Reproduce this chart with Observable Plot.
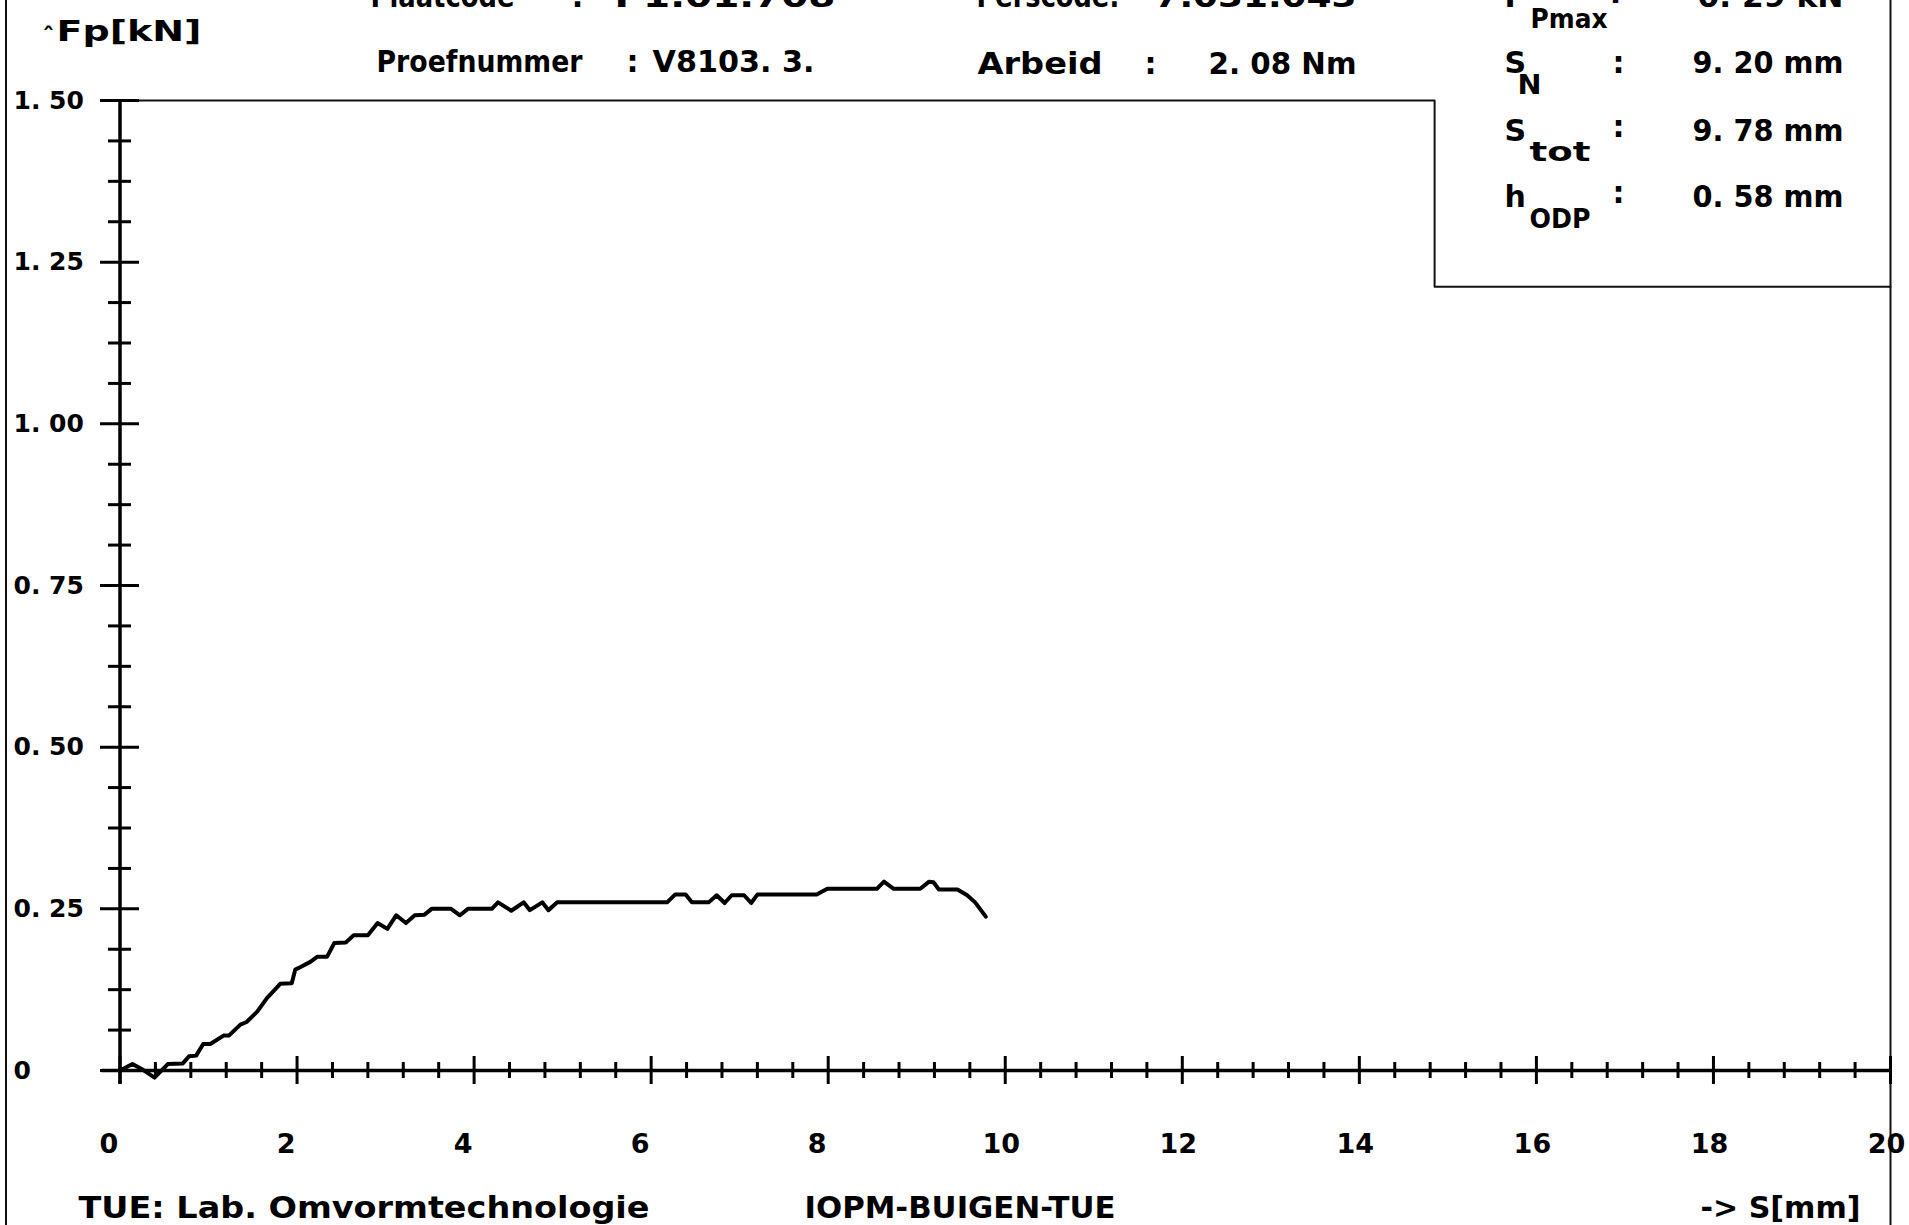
<!DOCTYPE html>
<html><head><meta charset="utf-8">
<script src="https://cdn.jsdelivr.net/npm/d3@7"></script>
<script src="https://cdn.jsdelivr.net/npm/@observablehq/plot@0.6"></script>
<style>
html,body{margin:0;padding:0;background:#fff;}
#chart{position:relative;width:1909px;height:1225px;overflow:hidden;background:#fff}
svg text{font-family:"DejaVu Sans",sans-serif;}
</style></head><body><div id="chart"></div>
<script>
// ---- data: displacement S [mm] and force Fp [kN] ----
const sValues = [0, 0.14, 0.26, 0.39, 0.54, 0.71, 0.78, 0.86, 0.94, 1.02, 1.17, 1.23, 1.36, 1.43, 1.55, 1.66, 1.81, 1.94, 1.98, 2.04, 2.15, 2.23, 2.34, 2.42, 2.55, 2.64, 2.80, 2.91, 3.02, 3.12, 3.23, 3.33, 3.44, 3.52, 3.74, 3.84, 3.93, 4.20, 4.27, 4.42, 4.56, 4.63, 4.77, 4.84, 4.94, 6.18, 6.27, 6.39, 6.46, 6.65, 6.74, 6.83, 6.91, 7.05, 7.13, 7.20, 7.87, 7.99, 8.55, 8.63, 8.74, 9.04, 9.14, 9.19, 9.25, 9.46, 9.57, 9.66, 9.78];
const fValues = [0, 0.010, 0.001, -0.011, 0.010, 0.011, 0.022, 0.023, 0.041, 0.041, 0.054, 0.054, 0.071, 0.075, 0.091, 0.112, 0.134, 0.135, 0.156, 0.160, 0.168, 0.176, 0.176, 0.197, 0.198, 0.209, 0.209, 0.228, 0.219, 0.240, 0.228, 0.240, 0.241, 0.250, 0.250, 0.240, 0.250, 0.250, 0.260, 0.247, 0.260, 0.248, 0.260, 0.248, 0.260, 0.260, 0.272, 0.272, 0.260, 0.260, 0.271, 0.259, 0.271, 0.271, 0.259, 0.272, 0.272, 0.281, 0.281, 0.292, 0.281, 0.281, 0.292, 0.291, 0.280, 0.280, 0.271, 0.260, 0.238];

const xTickValues = [0, 2, 4, 6, 8, 10, 12, 14, 16, 18, 20];
const xTickLabels = ["0", "2", "4", "6", "8", "10", "12", "14", "16", "18", "20"];
const yTickValues = [0, 0.25, 0.5, 0.75, 1.0, 1.25, 1.5];
const yTickLabels = ["0", "0. 25", "0. 50", "0. 75", "1. 00", "1. 25", "1. 50"];

// results box outline (data units)
const boxS = [0, 14.85, 14.85, 20];
const boxF = [1.5, 1.5, 1.212, 1.212];

// header / footer texts
const headerTexts = ["Plaatcode", ":", "P1.01.708", "Perscode:", "7.031.043", "F", "Pmax", ":", "0. 29 kN",
  "ˆ", "Fp[kN]", "Proefnummer", ":", "V8103. 3.", "Arbeid", ":", "2. 08 Nm",
  "S", "N", ":", "9. 20 mm", "S", "tot", ":", "9. 78 mm", "h", "ODP", ":", "0. 58 mm"];
const footerTexts = ["TUE: Lab. Omvormtechnologie", "IOPM-BUIGEN-TUE", "-> S[mm]"];

// ---- layout ----
const W = 1909, H = 1225, ML = 119.5, MR = 19, MT = 100, MB = 155;
// [x, baseline, fontSize, textLength]
const headerLayout = [
  [370, 6, 30, 144], [571, 6, 30, 0], [614, 6, 30, 221], [976, 6, 30, 143], [1154, 6, 30, 202],
  [1504, 6, 30, 0], [1530, 27, 26, 77], [1609, 2, 30, 0], [1697, 6, 30, 146],
  [42, 44, 24, 0], [56, 40, 28, 145], [376, 71, 30, 206], [626, 71, 30, 0], [652, 71, 30, 162],
  [977, 73, 30, 125], [1144, 73, 30, 0], [1208, 73, 30, 148],
  [1504, 72, 30, 0], [1517, 93, 26, 24], [1612, 72, 30, 0], [1692, 72, 30, 151],
  [1504, 140, 30, 0], [1529, 160, 26, 61], [1612, 136, 30, 0], [1692, 140, 30, 151],
  [1504, 206, 30, 0], [1529, 227, 26, 61], [1612, 202, 30, 0], [1692, 206, 30, 151]
];
const footerLayout = [[78, 1217, 30, 571], [804, 1217, 30, 311], [1700, 1217, 30, 160]];

const curve = sValues.map((s, i) => ({s, f: fValues[i]}));
const box = boxS.map((s, i) => ({s, f: boxF[i]}));
const xMinor = d3.range(0, 20.001, 0.4).map(v => Math.round(v * 10) / 10).filter(v => !xTickValues.includes(v));
const yMinor = d3.range(0, 1.5001, 0.0625).filter(v => !yTickValues.some(t => Math.abs(t - v) < 1e-9));

const annItems = [];
headerTexts.forEach((t, i) => annItems.push({t, l: headerLayout[i]}));
footerTexts.forEach((t, i) => annItems.push({t, l: footerLayout[i]}));

const annMarks = annItems.map(({t, l}) => Plot.text([t], {
  text: d => d, frameAnchor: "top-left", dx: l[0] - ML, dy: l[1] - MT,
  textAnchor: "start", lineAnchor: "bottom", fontSize: l[2], fontWeight: "bold",
  fill: "black", ariaDescription: "ann"
}));

const plot = Plot.plot({
  width: W, height: H,
  marginLeft: ML, marginRight: MR, marginTop: MT, marginBottom: MB,
  style: {background: "#fff", overflow: "visible"},
  x: {domain: [0, 20], axis: null},
  y: {domain: [0, 1.5], axis: null},
  marks: [
    // borders
    Plot.ruleX([20], {x: d => d, insetTop: -MT, insetBottom: -MB, strokeWidth: 2, stroke: "#111"}),
    Plot.ruleX([0], {x: d => d, dx: -114, insetTop: -MT, insetBottom: -MB, strokeWidth: 2, stroke: "#111"}),
    // results box
    Plot.line(box, {x: "s", y: "f", stroke: "#111", strokeWidth: 2}),
    // axes
    Plot.ruleX([0], {x: d => d, y1: d => 1.5, y2: d => 0, insetBottom: -14, strokeWidth: 3.5}),
    Plot.ruleY([0], {y: d => d, x1: d => 0, x2: d => 20, insetLeft: -18, strokeWidth: 3.5}),
    // x ticks
    Plot.ruleX(xTickValues, {x: d => d, y1: d => 0, y2: d => 0, insetTop: -14, insetBottom: -14, strokeWidth: 3}),
    Plot.ruleX(xMinor, {x: d => d, y1: d => 0, y2: d => 0, insetTop: -8, insetBottom: -8, strokeWidth: 3}),
    // y ticks
    Plot.ruleY(yTickValues, {y: d => d, x1: d => 0, x2: d => 0, insetLeft: -19.5, insetRight: -19.5, strokeWidth: 3}),
    Plot.ruleY(yMinor, {y: d => d, x1: d => 0, x2: d => 0, insetLeft: -11.5, insetRight: -11.5, strokeWidth: 3}),
    // tick labels
    Plot.text(xTickValues.filter(v => v < 10), {x: d => d, y: d => 0, dx: -11, dy: 82, text: d => xTickLabels[xTickValues.indexOf(d)],
      textAnchor: "middle", lineAnchor: "bottom", fontSize: 27, fontWeight: "bold", fill: "black"}),
    Plot.text(xTickValues.filter(v => v >= 10), {x: d => d, y: d => 0, dx: -4, dy: 82, text: d => xTickLabels[xTickValues.indexOf(d)],
      textAnchor: "middle", lineAnchor: "bottom", fontSize: 27, fontWeight: "bold", fill: "black"}),
    Plot.text(yTickValues, {x: d => 0, y: d => d, dx: -106.5, text: (d, i) => yTickLabels[i],
      textAnchor: "start", lineAnchor: "middle", fontSize: 25, fontWeight: "bold", fill: "black"}),
    // data curve
    Plot.line(curve, {x: "s", y: "f", stroke: "black", strokeWidth: 4, strokeLinejoin: "round"}),
    ...annMarks
  ]
});

document.getElementById("chart").appendChild(plot);

// fit annotation widths
const annTexts = plot.querySelectorAll('g[aria-description="ann"] text');
annTexts.forEach((el, i) => {
  const item = annItems[i];
  if (item && item.l[3] > 0) {
    el.setAttribute("textLength", item.l[3]);
    el.setAttribute("lengthAdjust", "spacingAndGlyphs");
  }
});
</script>
</body></html>
